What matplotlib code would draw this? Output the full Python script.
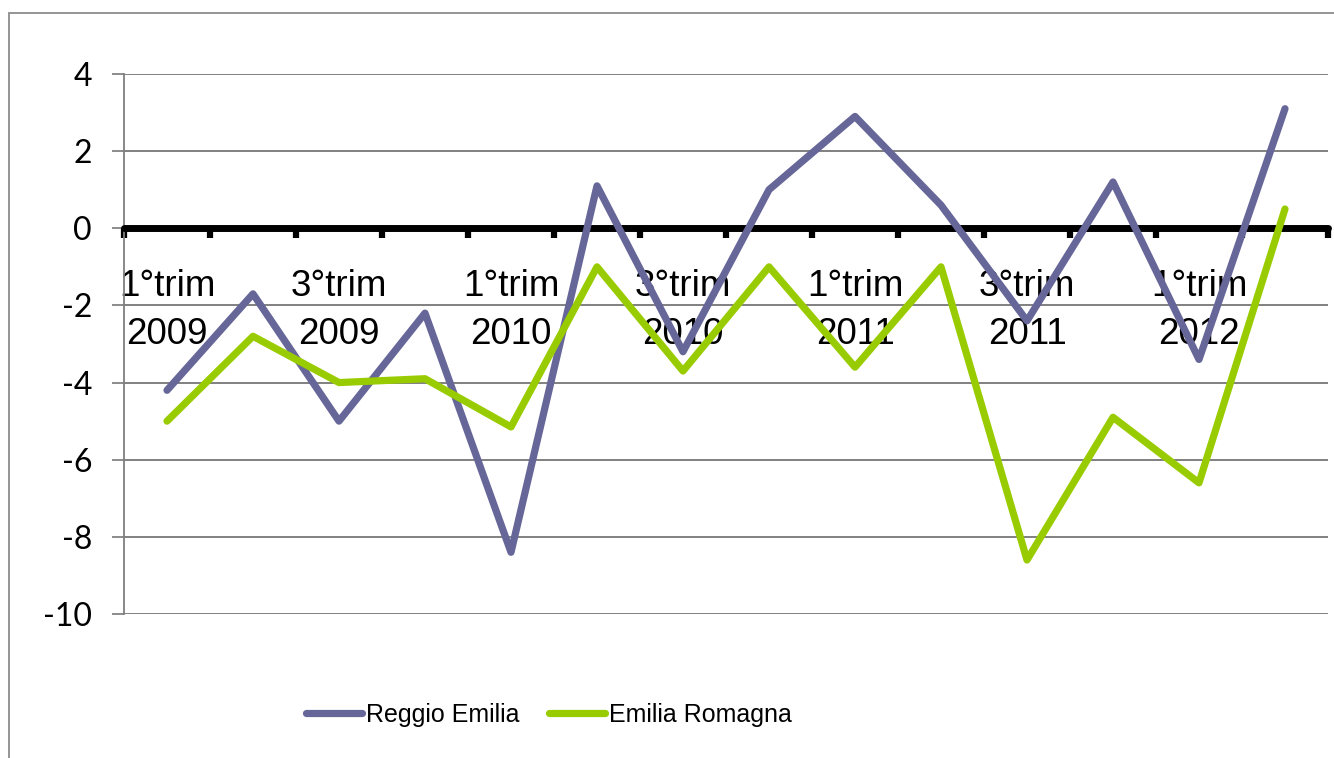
import numpy as np
import matplotlib.pyplot as plt
from matplotlib.patches import Rectangle

# data
quarters = ['1°trim\n2009', '2°trim\n2009', '3°trim\n2009', '4°trim\n2009',
            '1°trim\n2010', '2°trim\n2010', '3°trim\n2010', '4°trim\n2010',
            '1°trim\n2011', '2°trim\n2011', '3°trim\n2011', '4°trim\n2011',
            '1°trim\n2012', '2°trim\n2012']
reggio = [-4.2, -1.7, -5.0, -2.2, -8.4, 1.1, -3.2, 1.0, 2.9, 0.6, -2.4, 1.2, -3.4, 3.1]
emilia = [-5.0, -2.8, -4.0, -3.9, -5.15, -1.0, -3.7, -1.0, -3.6, -1.0, -8.6, -4.9, -6.6, 0.5]
y_ticks = [-10, -8, -6, -4, -2, 0, 2, 4]

fig = plt.figure(figsize=(13.34, 7.58), dpi=100)
ax = fig.add_axes([124/1334, 1 - 614/758, (1328 - 124)/1334, (614 - 74)/758])

# outer frame of the chart
fig.patches.append(Rectangle((9/1334, -0.2), 1.2, 1 - 13/758 + 0.2, transform=fig.transFigure,
                             fill=False, edgecolor='#8c8c8c', linewidth=1.3))

x = np.arange(len(quarters))
ax.plot(x, reggio, color='#666699', lw=5.2, solid_joinstyle='round', solid_capstyle='round',
        label='Reggio Emilia', zorder=4)
ax.plot(x, emilia, color='#99CC00', lw=5.2, solid_joinstyle='round', solid_capstyle='round',
        label='Emilia Romagna', zorder=4)

ax.set_xlim(-0.5, len(quarters) - 0.5)
ax.set_ylim(-10, 4)
ax.set_yticks(y_ticks)
ax.set_yticklabels([str(v) for v in y_ticks], fontfamily='Lato', fontsize=23)
for v in y_ticks:
    if v != 0:
        ax.axhline(v, color='#5e5e5e', lw=1.1, zorder=1)

ax.spines['top'].set_visible(False)
ax.spines['right'].set_visible(False)
ax.spines['left'].set_color('#7f7f7f')
ax.spines['left'].set_linewidth(1.3)
ax.tick_params(axis='y', direction='out', length=9, width=1.1, color='#6e6e6e', pad=14)

# category axis crossing at zero
ax.spines['bottom'].set_position(('data', 0))
ax.spines['bottom'].set_linewidth(5)
ax.spines['bottom'].set_capstyle('round')
ax.spines['bottom'].set_zorder(3)
ax.set_xticks(np.arange(-0.5, len(quarters)), minor=False)
ax.set_xticklabels([])
ax.tick_params(axis='x', which='major', direction='out', length=7, width=4.5, color='black')
ax.set_xticks(x[::2], minor=True)
ax.set_xticklabels(quarters[::2], minor=True, fontfamily='Liberation Sans', fontsize=26.5,
                   linespacing=1.5)
ax.tick_params(axis='x', which='minor', length=0, pad=29)

fig.legend(loc='center', bbox_to_anchor=(549/1334, 1 - 715/758), ncol=2, frameon=False,
           prop={'family': 'Liberation Sans', 'size': 18},
           handlelength=2.24, handletextpad=0.16, columnspacing=1.16)

fig.savefig('out.png', dpi=100)
